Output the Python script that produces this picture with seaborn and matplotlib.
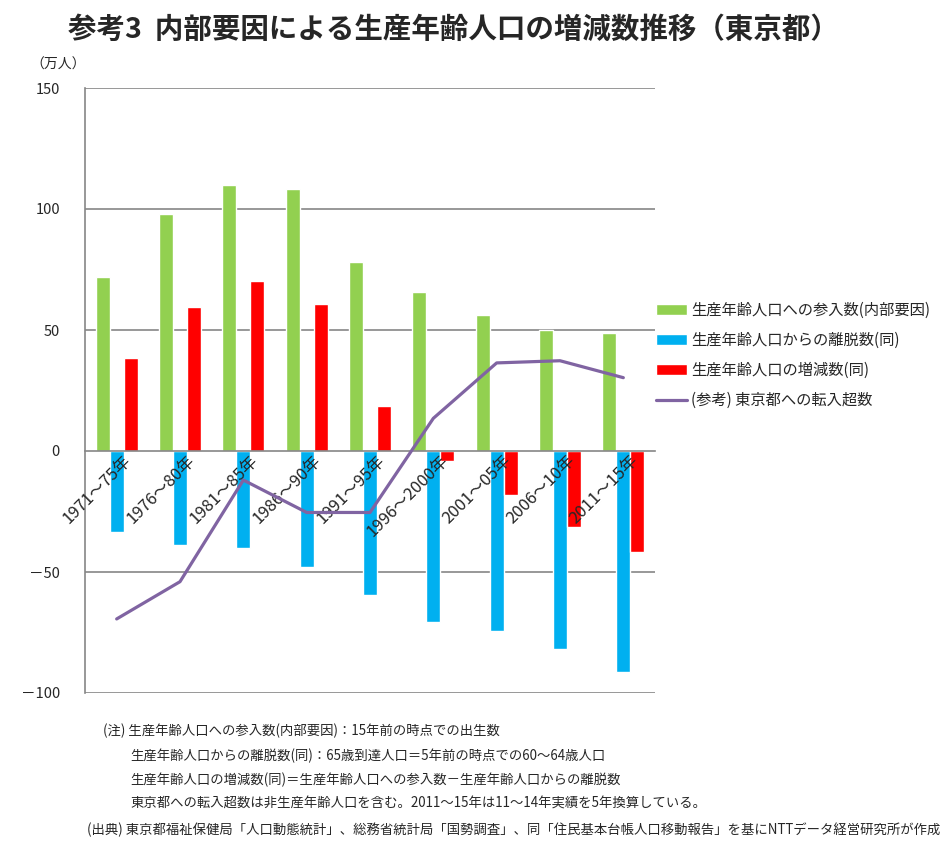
import numpy as np
import pandas as pd
import matplotlib
matplotlib.use('Agg')
import matplotlib.pyplot as plt
import seaborn as sns
from matplotlib.patches import Patch
from matplotlib.lines import Line2D

# データ (万人)
periods = ['1971～75年', '1976～80年', '1981～85年', '1986～90年', '1991～95年',
           '1996～2000年', '2001～05年', '2006～10年', '2011～15年']
entry = [72.0, 98.1, 110.0, 108.4, 78.2, 65.8, 56.3, 50.0, 48.9]
leave = [-33.6, -39.0, -40.2, -48.1, -59.7, -70.8, -74.5, -82.0, -91.5]
change = [38.6, 59.7, 70.4, 60.9, 18.7, -4.3, -18.0, -31.6, -41.9]
net_in = [-69.4, -54.0, -12.0, -25.4, -25.4, 13.5, 36.4, 37.3, 30.3]

series_names = ['生産年齢人口への参入数(内部要因)', '生産年齢人口からの離脱数(同)', '生産年齢人口の増減数(同)']
line_name = '(参考) 東京都への転入超数'
colors = ['#92D050', '#00B0F0', '#FF0000']
line_color = '#8064A2'
grid_color = '#868686'

yticks = [-100, -50, 0, 50, 100, 150]
ytick_labels = ['－100', '－50', '0', '50', '100', '150']

df = pd.DataFrame({
    '期間': periods * 3,
    '系列': [series_names[0]] * 9 + [series_names[1]] * 9 + [series_names[2]] * 9,
    '値': entry + leave + change,
})

sns.set_style('white')
plt.rcParams['font.family'] = ['Noto Sans CJK JP', 'DejaVu Sans']

fig = plt.figure(figsize=(9.52, 8.44), dpi=100)
ax = fig.add_axes([85 / 952, 1 - 693 / 844, 570 / 952, 605 / 844])

sns.barplot(data=df, x='期間', y='値', hue='系列', hue_order=series_names,
            palette=colors, width=0.66, saturation=1, legend=False, ax=ax)
sns.lineplot(x=np.arange(len(periods)), y=net_in, color=line_color,
             linewidth=2.3, ax=ax, legend=False, zorder=3)

ax.set_axisbelow(False)
ax.set_xlim(-0.5, len(periods) - 0.5)
ax.set_ylim(-100, 150)
ax.set_yticks(yticks)
ax.set_yticklabels(ytick_labels, fontsize=10.5)
ax.set_xlabel('')
ax.set_ylabel('')

for y in yticks:
    if y != 0:
        ax.axhline(y, color=grid_color, linewidth=1.2, zorder=0)

for s in ['top', 'right']:
    ax.spines[s].set_visible(False)
ax.spines['left'].set_color(grid_color)
ax.spines['left'].set_linewidth(1.2)
ax.spines['bottom'].set_position(('data', 0))
ax.spines['bottom'].set_color(grid_color)
ax.spines['bottom'].set_linewidth(1.2)

ax.tick_params(axis='y', length=4, color=grid_color, pad=14)
ax.tick_params(axis='x', length=0, pad=1)
ax.set_xticks(np.arange(len(periods)) + 0.1)
ax.set_xticklabels(periods, fontsize=12, rotation=45, ha='right',
                   va='top', rotation_mode='anchor')

# 凡例
handles = [Patch(facecolor=c) for c in colors] + [Line2D([0], [0], color=line_color, linewidth=2.3)]
fig.legend(handles, series_names + [line_name], loc='upper left',
           bbox_to_anchor=(650 / 952, 1 - 296 / 844), frameon=False,
           fontsize=11, handlelength=2.0, handleheight=0.7,
           labelspacing=0.85, handletextpad=0.3, borderaxespad=0)

# タイトル
fig.text(68 / 952, 1 - 30 / 844, '参考3  内部要因による生産年齢人口の増減数推移（東京都）',
         fontsize=20.5, fontweight='bold', va='center', ha='left')
fig.text(30 / 952, 1 - 65 / 844, '（万人）', fontsize=10, va='center', ha='left')

# 注記
notes = [
    (103, 731, '(注) 生産年齢人口への参入数(内部要因)：15年前の時点での出生数'),
    (130, 756, '生産年齢人口からの離脱数(同)：65歳到達人口＝5年前の時点での60～64歳人口'),
    (130, 780, '生産年齢人口の増減数(同)＝生産年齢人口への参入数－生産年齢人口からの離脱数'),
    (130, 804, '東京都への転入超数は非生産年齢人口を含む。2011～15年は11～14年実績を5年換算している。'),
    (87, 830, '(出典) 東京都福祉保健局「人口動態統計」、総務省統計局「国勢調査」、同「住民基本台帳人口移動報告」を基にNTTデータ経営研究所が作成'),
]
for x, y, t in notes:
    fig.text(x / 952, 1 - y / 844, t, fontsize=9.6, va='center', ha='left')

fig.savefig('out.png', dpi=100)
